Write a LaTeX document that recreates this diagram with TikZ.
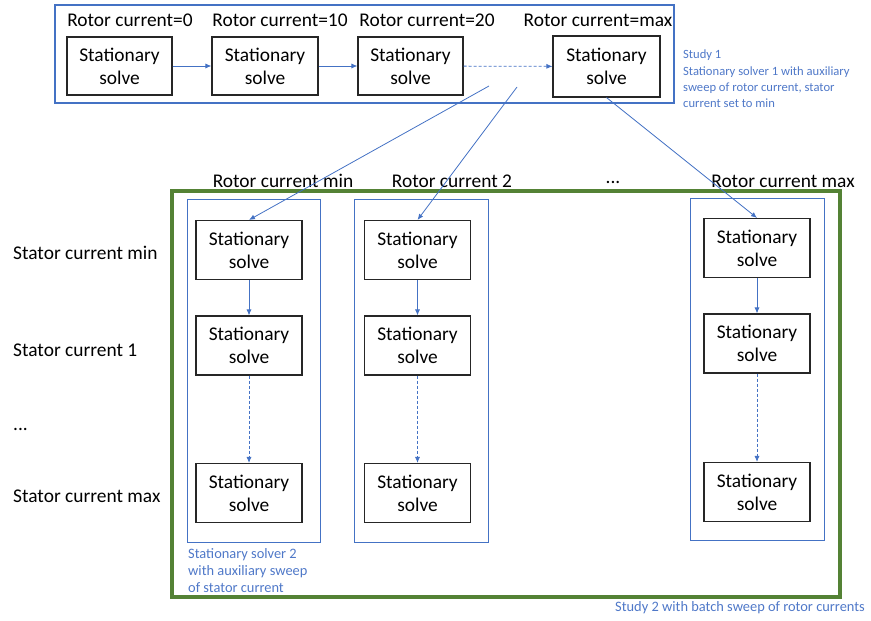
\documentclass[tikz,border=0pt]{standalone}
\usepackage{fontspec}
\setmainfont{Carlito}
\usetikzlibrary{arrows.meta}
\definecolor{lineblue}{RGB}{68,114,196}
\definecolor{textblue}{RGB}{79,120,200}
\definecolor{boxgreen}{RGB}{84,130,53}
\tikzset{
  solvebox/.style={draw=black!85, line width=1.1pt, minimum width=106pt, minimum height=59pt, inner sep=0pt, align=center, font=\fontsize{19.4}{23}\selectfont},
  groupbox/.style={draw=lineblue, line width=0.9pt, inner sep=0pt},
  studybox/.style={draw=boxgreen, line width=3.2pt, inner sep=0pt},
  biglabel/.style={inner sep=0pt, font=\fontsize{19.4}{23}\selectfont},
  bluenote/.style={inner sep=0pt, align=left, text=textblue, font=\fontsize{12.6}{16.3}\selectfont},
  bignote/.style={bluenote, font=\fontsize{14.4}{17}\selectfont},
  link/.style={draw=lineblue, line width=0.8pt, -{Latex[length=6pt,width=5pt]}},
  dlink/.style={link, dash pattern=on 3pt off 2pt}
}
\begin{document}
\begin{tikzpicture}[x=1pt,y=-1pt]
\useasboundingbox (0,0) rectangle (871,621);
% Study 1
\node[groupbox, line width=1.3pt, minimum width=619pt, minimum height=98pt] (study1) at (364.5,54) {};
\node[solvebox, minimum width=105pt, minimum height=58pt] (t1) at (119.5,66) {Stationary\\solve};
\node[solvebox, minimum width=106pt, minimum height=58pt] (t2) at (265,66) {Stationary\\solve};
\node[solvebox, minimum width=105pt, minimum height=58pt] (t3) at (410.5,66) {Stationary\\solve};
\node[solvebox, minimum width=107pt, minimum height=61pt] (t4) at (606.5,66.5) {Stationary\\solve};
\node[biglabel] (l1) at (130,20) {Rotor current=0};
\node[biglabel] (l2) at (280,20) {Rotor current=10};
\node[biglabel] (l3) at (427,20) {Rotor current=20};
\node[biglabel] (l4) at (598,20) {Rotor current=max};
\draw[link] (t1) -- (t2);
\draw[link] (t2) -- (t3);
\draw[dlink] (t3) -- (t4);
\node[bluenote, anchor=west] (n1) at (683,79) {Study 1\\Stationary solver 1 with auxiliary\\sweep of rotor current, stator\\current set to min};
% Study 2
\node[studybox, minimum width=668pt, minimum height=406pt] (study2) at (506,394) {};
\node[groupbox, minimum width=133pt, minimum height=343pt] (g1) at (253.5,370.5) {};
\node[groupbox, minimum width=134pt, minimum height=343pt] (g2) at (421,370.5) {};
\node[groupbox, minimum width=134pt, minimum height=342pt] (g3) at (757,369) {};
\node[solvebox] (a1) at (249,250) {Stationary\\solve};
\node[solvebox] (a2) at (249,345.5) {Stationary\\solve};
\node[solvebox] (a3) at (249,493) {Stationary\\solve};
\node[solvebox] (b1) at (417.5,250) {Stationary\\solve};
\node[solvebox] (b2) at (417.5,345.5) {Stationary\\solve};
\node[solvebox] (b3) at (417.5,493) {Stationary\\solve};
\node[solvebox] (c1) at (757,248) {Stationary\\solve};
\node[solvebox] (c2) at (757,343.5) {Stationary\\solve};
\node[solvebox] (c3) at (757,492) {Stationary\\solve};
\draw[link] (a1) -- (a2);
\draw[dlink] (a2) -- (a3);
\draw[link] (b1) -- (b2);
\draw[dlink] (b2) -- (b3);
\draw[link] (c1) -- (c2);
\draw[dlink] (c2) -- (c3);
\node[biglabel] (r1) at (283,181) {Rotor current min};
\node[biglabel] (r2) at (452,181) {Rotor current 2};
\node[biglabel] (r3) at (613,182) {...};
\node[biglabel] (r4) at (783,181) {Rotor current max};
\node[biglabel, anchor=west] (s1) at (13,253) {Stator current min};
\node[biglabel, anchor=west] (s2) at (13,350) {Stator current 1};
\node[biglabel, anchor=west] (s3) at (13,429) {...};
\node[biglabel, anchor=west] (s4) at (13,496) {Stator current max};
\node[bignote, anchor=west] (n2) at (188,571) {Stationary solver 2\\with auxiliary sweep\\of stator current};
\node[bignote, anchor=west] (n3) at (615,608) {Study 2 with batch sweep of rotor currents};
% links between studies
\coordinate (p1) at (489,86);
\coordinate (p2) at (517,87);
\draw[link] (p1) -- (a1.north);
\draw[link] (p2) -- (b1.north);
\draw[link] (t4.south) -- (c1.north);
\end{tikzpicture}
\end{document}
